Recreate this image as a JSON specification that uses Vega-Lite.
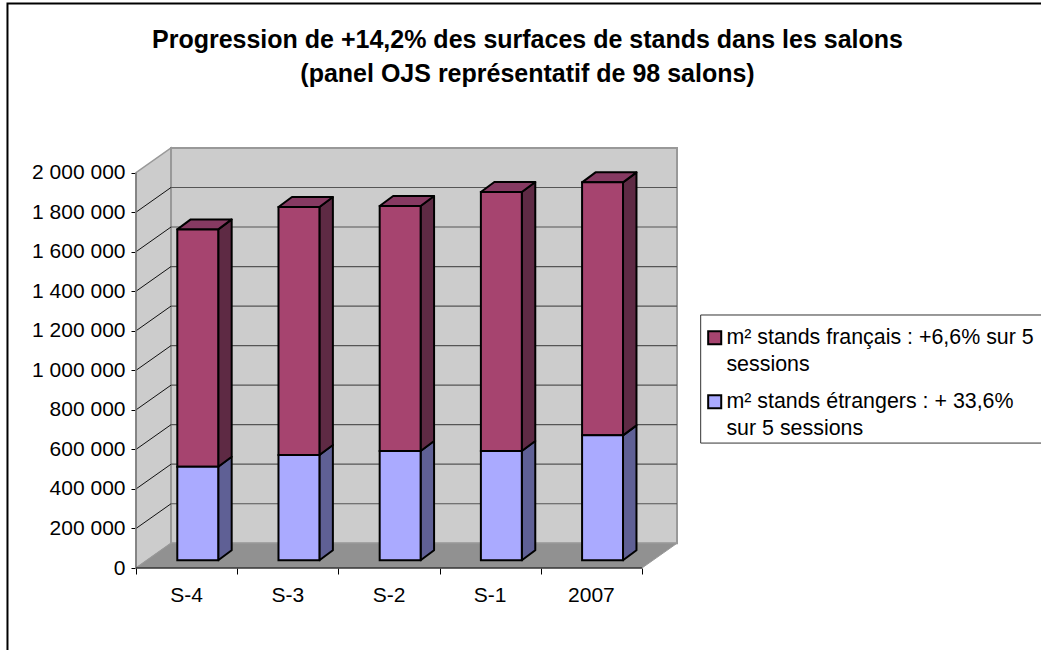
{
"$schema":"https://vega.github.io/schema/vega-lite/v6.json",
"width":541,"height":420,
"autosize":{"type":"none"},
"padding":{"left":136,"top":148,"right":364,"bottom":82},
"background":"white",
"config":{"view":{"stroke":null},"font":"Liberation Sans"},
"title":{"text":["Progression de +14,2% des surfaces de stands dans les salons","(panel OJS représentatif de 98 salons)"],"font":"Liberation Sans","fontSize":25,"fontWeight":"bold","color":"black","lineHeight":34,"anchor":"middle","frame":"group","dx":121,"offset":-85},
"data":{"values":[
{"session":"S-4","francais":1201000,"etrangers":473000},
{"session":"S-3","francais":1254000,"etrangers":533000},
{"session":"S-2","francais":1239000,"etrangers":553000},
{"session":"S-1","francais":1310000,"etrangers":553000},
{"session":"2007","francais":1280000,"etrangers":632000}
]},
"transform":[
{"window":[{"op":"row_number","as":"n"}]},
{"calculate":"datum.n-1","as":"i"},
{"fold":["francais","etrangers"],"as":["key","value"]},
{"calculate":"datum.key=='francais'?'m² stands français : +6,6% sur 5 sessions':'m² stands étrangers : + 33,6% sur 5 sessions'","as":"serie"},
{"calculate":"datum.key=='francais'?datum.etrangers:0","as":"lo"},
{"calculate":"datum.lo+datum.value","as":"hi"},
{"calculate":"datum.i+0.408","as":"xl"},
{"calculate":"datum.i+0.8125","as":"xr"},
{"calculate":"datum.lo+39000","as":"yl"},
{"calculate":"datum.hi+39000","as":"yh"},
{"calculate":"datum.session+datum.key","as":"seg"}
],
"encoding":{
"x":{"type":"quantitative","scale":{"domain":[0,5.346],"nice":false,"zero":false}},
"y":{"type":"quantitative","scale":{"domain":[0,2124780],"nice":false,"zero":false}}
},
"layer":[
{"data":{"values":[{"box":"chart"}]},"mark":{"type":"rect","fill":null,"stroke":"black","strokeWidth":2},
 "encoding":{"x":{"datum":-1.27,"type":"quantitative","axis":{"values":[0,1,2,3,4,5],"title":null,"labels":false,"domain":false,"grid":false,"tickColor":"black","tickSize":6,"tickWidth":1}},"x2":{"datum":9.3},
 "y":{"datum":2856000,"type":"quantitative","axis":{"values":[0,200000,400000,600000,800000,1000000,1200000,1400000,1600000,1800000,2000000],"title":null,"domain":false,"grid":false,"tickColor":"black","tickSize":5,"tickWidth":1,"labelPadding":6,"labelFontSize":21,"labelColor":"black","labelFont":"Liberation Sans","labelExpr":"replace(format(datum.value,','),/,/g,' ')"}},"y2":{"datum":-516000}}},
{"data":{"values":[{"box":"legend"}]},"mark":{"type":"rect","fill":"white","stroke":"#333333","strokeWidth":1},
 "encoding":{"x":{"datum":5.58},"x2":{"datum":9.3},"y":{"datum":1280000},"y2":{"datum":632000}}},
{"data":{"values":[{"c":0},{"c":1}]},"transform":[{"calculate":"datum.c*0.346","as":"px"},{"calculate":"datum.c*125000","as":"py"},{"calculate":"2000000+datum.c*125000","as":"py2"}],
 "mark":{"type":"area","fill":"#CCCCCC","stroke":"#999999","strokeWidth":1.5},
 "encoding":{"x":{"field":"px"},"y":{"field":"py"},"y2":{"field":"py2"}}},
{"data":{"values":[{"wall":"back"}]},"mark":{"type":"rect","fill":"#CCCCCC","stroke":"#999999","strokeWidth":2},
 "encoding":{"x":{"datum":0.346},"x2":{"datum":5.346},"y":{"datum":125000},"y2":{"datum":2125000}}},
{"data":{"values":[{"c":0},{"c":1}]},"transform":[{"calculate":"datum.c*0.346","as":"px"},{"calculate":"5+datum.c*0.346","as":"px2"},{"calculate":"datum.c*125000","as":"py"}],
 "mark":{"type":"area","orient":"horizontal","fill":"#919191","stroke":"#999999","strokeWidth":1},
 "encoding":{"x":{"field":"px"},"x2":{"field":"px2"},"y":{"field":"py"}}},
{"data":{"values":[{"level":200000},{"level":400000},{"level":600000},{"level":800000},{"level":1000000},{"level":1200000},{"level":1400000},{"level":1600000},{"level":1800000}]},
 "transform":[{"calculate":"datum.level+125000","as":"back"}],
 "mark":{"type":"rule","color":"#555555","strokeWidth":1.2},
 "encoding":{"x":{"datum":0.346},"x2":{"datum":5.346},"y":{"field":"back"}}},
{"data":{"values":[{"level":200000},{"level":400000},{"level":600000},{"level":800000},{"level":1000000},{"level":1200000},{"level":1400000},{"level":1600000},{"level":1800000}]},
 "transform":[{"calculate":"datum.level+125000","as":"back"}],
 "mark":{"type":"rule","color":"#111111","strokeWidth":1},
 "encoding":{"x":{"datum":0},"x2":{"datum":0.346},"y":{"field":"level"},"y2":{"field":"back"}}},
{"data":{"values":[{"edge":"left"}]},"mark":{"type":"rule","color":"#777777","strokeWidth":1.5},
 "encoding":{"x":{"datum":0},"y":{"datum":0},"y2":{"datum":2000000}}},
{"data":{"values":[{"edge":"bottom"}]},"mark":{"type":"rule","color":"black","strokeWidth":1},
 "encoding":{"x":{"datum":0},"x2":{"datum":5},"y":{"datum":0}}},
{"transform":[{"filter":"datum.key=='etrangers'"},{"calculate":"[0,1]","as":"k"},{"flatten":["k"]},{"calculate":"datum.xr+datum.k*0.133","as":"sx"},{"calculate":"datum.yl+datum.k*50600","as":"sy"},{"calculate":"datum.yh+datum.k*50600","as":"sy2"}],
 "mark":{"type":"area","fill":"#5F6095","stroke":"black","strokeWidth":2,"strokeJoin":"round"},
 "encoding":{"detail":{"field":"seg"},"x":{"field":"sx"},"y":{"field":"sy"},"y2":{"field":"sy2"}}},
{"transform":[{"filter":"datum.key=='francais'"},{"calculate":"[0,1]","as":"k"},{"flatten":["k"]},{"calculate":"datum.xr+datum.k*0.133","as":"sx"},{"calculate":"datum.yl+datum.k*50600","as":"sy"},{"calculate":"datum.yh+datum.k*50600","as":"sy2"}],
 "mark":{"type":"area","fill":"#5E2A44","stroke":"black","strokeWidth":2,"strokeJoin":"round"},
 "encoding":{"detail":{"field":"seg"},"x":{"field":"sx"},"y":{"field":"sy"},"y2":{"field":"sy2"}}},
{"transform":[{"filter":"datum.key=='francais'"},{"calculate":"[0,1]","as":"k"},{"flatten":["k"]},{"calculate":"datum.xl+datum.k*0.133","as":"tx"},{"calculate":"datum.xr+datum.k*0.133","as":"tx2"},{"calculate":"datum.yh+datum.k*50600","as":"ty"}],
 "mark":{"type":"area","orient":"horizontal","fill":"#863A62","stroke":"black","strokeWidth":2,"strokeJoin":"round"},
 "encoding":{"detail":{"field":"seg"},"x":{"field":"tx"},"x2":{"field":"tx2"},"y":{"field":"ty"}}},
{"mark":{"type":"rect","stroke":"black","strokeWidth":2},
 "encoding":{"x":{"field":"xl"},"x2":{"field":"xr"},"y":{"field":"yl"},"y2":{"field":"yh"},
 "color":{"field":"serie","type":"nominal","scale":{"domain":["m² stands français : +6,6% sur 5 sessions","m² stands étrangers : + 33,6% sur 5 sessions"],"range":["#A6446F","#AAAAFF"]},
 "legend":{"title":null,"orient":"none","legendX":568,"legendY":179,"symbolType":"square","symbolSize":170,"symbolStrokeColor":"black","symbolStrokeWidth":2,"symbolOpacity":1,"labelFont":"Liberation Sans","labelFontSize":21.4,"labelColor":"black","labelLimit":400,"labelOffset":1,"rowPadding":14,"encoding":{"labels":{"lineHeight":{"value":27}}},"labelExpr":"indexof(datum.label,'français')>=0?['m² stands français : +6,6% sur 5','sessions']:['m² stands étrangers : + 33,6%','sur 5 sessions']"}}}},
{"transform":[{"filter":"datum.key=='francais'"},{"calculate":"datum.i+0.5","as":"cx"},{"calculate":"0","as":"cy"}],
 "mark":{"type":"text","fontSize":21,"font":"Liberation Sans","color":"black","align":"center","baseline":"alphabetic","dy":34},
 "encoding":{"x":{"field":"cx"},"y":{"field":"cy"},"text":{"field":"session"}}}
]
}
